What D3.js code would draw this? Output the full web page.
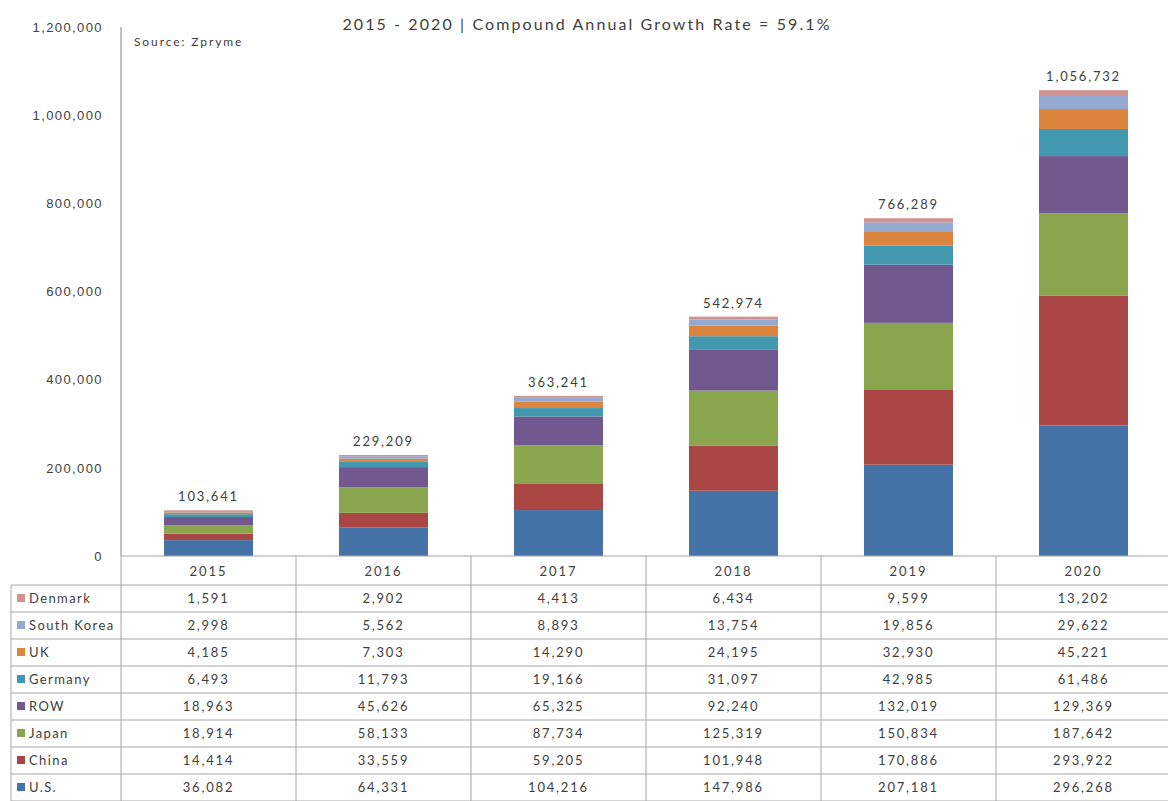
<!DOCTYPE html>
<html>
<head>
<meta charset="utf-8">
<script src="https://cdn.jsdelivr.net/npm/d3@7"></script>
<style>
  body { margin: 0; background: #fff; }
  svg { font-family: "Lato", "DejaVu Sans", sans-serif; }
  .grid line { stroke: #a6a6a6; stroke-width: 1; }
  text { fill: #404040; letter-spacing: 1.4px; }
</style>
</head>
<body>
<svg id="chart" width="1168" height="801"></svg>
<script>
const years = ["2015", "2016", "2017", "2018", "2019", "2020"];
const countries = ["U.S.", "China", "Japan", "ROW", "Germany", "UK", "South Korea", "Denmark"];
const usVals = [36082, 64331, 104216, 147986, 207181, 296268];
const chinaVals = [14414, 33559, 59205, 101948, 170886, 293922];
const japanVals = [18914, 58133, 87734, 125319, 150834, 187642];
const rowVals = [18963, 45626, 65325, 92240, 132019, 129369];
const germanyVals = [6493, 11793, 19166, 31097, 42985, 61486];
const ukVals = [4185, 7303, 14290, 24195, 32930, 45221];
const koreaVals = [2998, 5562, 8893, 13754, 19856, 29622];
const denmarkVals = [1591, 2902, 4413, 6434, 9599, 13202];
const totalLabels = ["103,641", "229,209", "363,241", "542,974", "766,289", "1,056,732"];
const yTicks = [0, 200000, 400000, 600000, 800000, 1000000, 1200000];
const colors = ["#4572A7", "#AA4643", "#89A54E", "#71588F", "#4198AF", "#DB843D", "#93A9CF", "#D19392"];

const seriesVals = [usVals, chinaVals, japanVals, rowVals, germanyVals, ukVals, koreaVals, denmarkVals];
const rows = years.map((y, i) => {
  const r = { year: y };
  countries.forEach((c, k) => r[c] = seriesVals[k][i]);
  return r;
});

const svg = d3.select("#chart");
const axisX = 121, right = 1171, plotTop = 27, plotBottom = 556;

const x = d3.scaleBand().domain(years).range([axisX, right]).paddingInner(0).paddingOuter(0);
const y = d3.scaleLinear().domain([0, 1200000]).range([plotBottom, plotTop]);
const color = d3.scaleOrdinal().domain(countries).range(colors);

// title and source
svg.append("text")
  .attr("x", 587).attr("y", 30)
  .attr("text-anchor", "middle")
  .style("font-size", "16px")
  .style("letter-spacing", "2.1px")
  .text("2015 - 2020 | Compound Annual Growth Rate = 59.1%");
svg.append("text")
  .attr("x", 134).attr("y", 46)
  .style("font-size", "12px")
  .style("letter-spacing", "1.9px")
  .text("Source: Zpryme");

// y axis
const yAxis = d3.axisLeft(y).tickValues(yTicks).tickFormat(d3.format(",")).tickSize(0).tickPadding(18);
const yg = svg.append("g").attr("transform", `translate(${axisX},0)`).call(yAxis);
yg.select(".domain").remove();
yg.selectAll("text").style("font-size", "13px").attr("fill", "#404040");
svg.append("line")
  .attr("x1", axisX).attr("x2", axisX)
  .attr("y1", plotTop).attr("y2", plotBottom)
  .attr("stroke", "#808080");

// stacked bars
const stack = d3.stack().keys(countries);
const layers = stack(rows);
const barW = 89;
svg.append("g").selectAll("g")
  .data(layers)
  .join("g")
  .attr("fill", d => color(d.key))
  .selectAll("rect")
  .data(d => d)
  .join("rect")
  .attr("x", d => x(d.data.year) + x.bandwidth() / 2 - barW / 2)
  .attr("width", barW)
  .attr("y", d => y(d[1]))
  .attr("height", d => y(d[0]) - y(d[1]));

// totals
svg.append("g").selectAll("text")
  .data(rows)
  .join("text")
  .attr("x", d => x(d.year) + x.bandwidth() / 2)
  .attr("y", d => y(d3.sum(countries, c => d[c])) - 9)
  .attr("text-anchor", "middle")
  .style("font-size", "13px")
  .style("letter-spacing", "1.8px")
  .text((d, i) => totalLabels[i]);

// data table
const tableLeft = 11, headerH = 29, rowH = 27;
const headerBottom = plotBottom + headerH;
const grid = svg.append("g").attr("class", "grid");
const tableRows = countries.slice().reverse();
const tableBottom = headerBottom + rowH * tableRows.length;

grid.append("line").attr("x1", axisX).attr("x2", right).attr("y1", plotBottom).attr("y2", plotBottom);
d3.range(tableRows.length + 1).forEach(k => {
  const yy = headerBottom + k * rowH;
  grid.append("line").attr("x1", tableLeft).attr("x2", right).attr("y1", yy).attr("y2", yy);
});
grid.append("line").attr("x1", tableLeft).attr("x2", tableLeft).attr("y1", headerBottom).attr("y2", tableBottom);
years.forEach(yr => {
  grid.append("line").attr("x1", x(yr)).attr("x2", x(yr)).attr("y1", plotBottom).attr("y2", tableBottom);
});
grid.append("line").attr("x1", right - 1).attr("x2", right - 1).attr("y1", plotBottom).attr("y2", tableBottom);

svg.append("g").selectAll("text")
  .data(years)
  .join("text")
  .attr("x", d => x(d) + x.bandwidth() / 2)
  .attr("y", plotBottom + headerH / 2 + 5)
  .attr("text-anchor", "middle")
  .style("font-size", "13px")
  .style("letter-spacing", "2px")
  .text(d => d);

const fmt = d3.format(",");
const tr = svg.append("g").selectAll("g")
  .data(tableRows)
  .join("g")
  .attr("transform", (d, k) => `translate(0,${headerBottom + k * rowH})`);
tr.append("rect")
  .attr("x", tableLeft + 6).attr("y", rowH / 2 - 4.5)
  .attr("width", 8).attr("height", 8)
  .attr("fill", d => color(d));
tr.append("text")
  .attr("x", tableLeft + 18).attr("y", rowH / 2 + 4.5)
  .style("font-size", "13px")
  .text(d => d);
tr.selectAll("text.val")
  .data(c => rows.map(r => ({ year: r.year, v: r[c] })))
  .join("text")
  .attr("class", "val")
  .attr("x", d => x(d.year) + x.bandwidth() / 2)
  .attr("y", rowH / 2 + 4.5)
  .attr("text-anchor", "middle")
  .style("font-size", "13px")
  .style("letter-spacing", "1.8px")
  .text(d => fmt(d.v));
</script>
</body>
</html>
